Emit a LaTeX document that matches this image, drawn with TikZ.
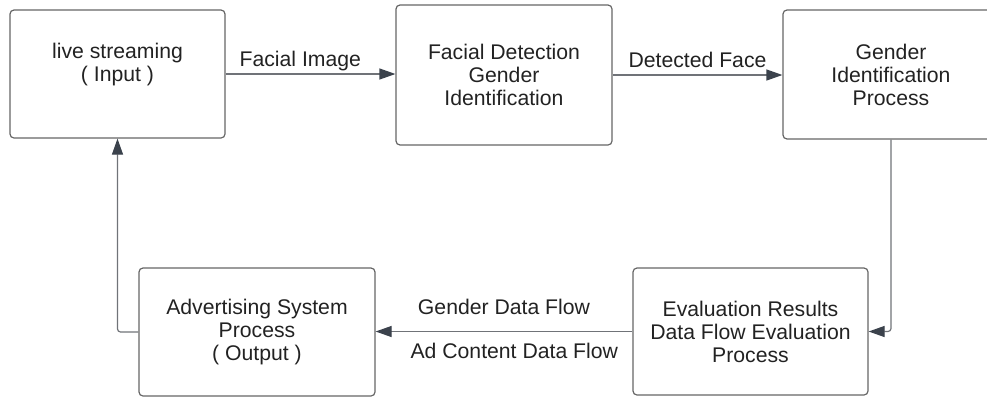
\documentclass[tikz,border=0pt]{standalone}
\usepackage{fontspec}
\setmainfont{Liberation Sans}
\usetikzlibrary{arrows.meta}
\definecolor{edgegray}{HTML}{707378}
\definecolor{tipgray}{HTML}{3B424C}
\definecolor{inkgray}{HTML}{222222}

\begin{document}
\begin{tikzpicture}[x=1pt,y=-1pt,
 bx/.style={draw=black!60,line width=1.2pt,rounded corners=4pt,align=center,inner sep=0pt,
  font=\fontsize{21.2}{23}\selectfont,text=inkgray},
 ar/.style={-{Triangle[length=16pt,width=11pt,color=tipgray]},draw=edgegray,line width=1.2pt,rounded corners=3pt},
 lb/.style={font=\fontsize{21.2}{23}\selectfont,text=inkgray,inner sep=2pt,text height=15pt,text depth=4.5pt}]
 \useasboundingbox (0,0) rectangle (987,397);
 % top row
 \node[bx,minimum width=215pt,minimum height=128pt] (live) at (117.5,74) {live streaming\\( Input )\\\mbox{}};
 \node[bx,minimum width=216pt,minimum height=140pt] (face) at (504,75) {Facial Detection\\Gender\\Identification};
 \node[bx,minimum width=216pt,minimum height=129pt] (gen) at (891,74.5) {Gender\\Identification\\Process};
 % bottom row
 \node[bx,minimum width=235pt,minimum height=127pt] (eval) at (750.5,331.5) {Evaluation Results\\Data Flow Evaluation\\Process};
 \node[bx,minimum width=236pt,minimum height=128pt] (ads) at (257,332) {Advertising System\\Process\\( Output )};
 % connectors
 \draw[ar] (live.east) -- node[lb,above,pos=.44] {Facial Image} (live.east -| face.west);
 \draw[ar] (face.east) -- node[lb,above] {Detected Face} (face.east -| gen.west);
 \draw[ar] (gen.south) |- (eval.east);
 \draw[ar] (eval.west) -- node[lb,above=10pt] {Gender Data Flow}
  node[lb,below=9pt,pos=.46] {Ad Content Data Flow} (eval.west -| ads.east);
 \draw[ar] (ads.west) -| (live.south);
\end{tikzpicture}
\end{document}
